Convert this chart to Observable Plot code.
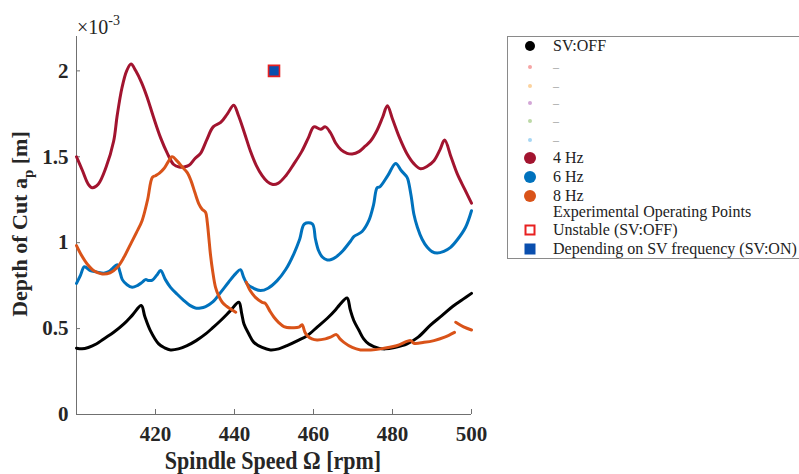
<!DOCTYPE html>
<html><head><meta charset="utf-8">
<script src="https://cdn.jsdelivr.net/npm/d3@7"></script>
<script src="https://cdn.jsdelivr.net/npm/@observablehq/plot@0.6"></script>
<style>
body{margin:0;overflow:hidden;background:#fff;}
#wrap{position:relative;width:799px;height:474px;overflow:hidden;}
#legend{position:absolute;left:507px;top:36px;width:320px;height:221px;border:1px solid #8a8a8a;border-right:none;font-family:"Liberation Serif",serif;font-size:16px;color:#222;background:#fff;}
.item{position:absolute;left:0;height:16px;width:320px;}
.mk{position:absolute;transform:translate(-50%,-50%);top:8px;left:22px;}
.tx{position:absolute;left:45px;top:0;line-height:16px;white-space:nowrap;}
.lbl{position:absolute;font-family:"Liberation Serif",serif;color:#262626;white-space:nowrap;line-height:1;}
</style></head>
<body><div id="wrap"></div>
<script>
// ---- data (y in units of 1e-3 m) ----
const xTicks = [420, 440, 460, 480, 500];
const yTicks = [0, 0.5, 1, 1.5, 2];

const svOff = [[400,0.386],[401.4,0.382],[403,0.39],[405,0.41],[406.9,0.44],[409.5,0.48],[412,0.527],[414.2,0.58],[416.4,0.634],[417.3,0.57],[418.7,0.488],[420.8,0.411],[422.3,0.388],[423.8,0.376],[425.8,0.382],[428,0.401],[430.3,0.43],[432.7,0.469],[434.5,0.505],[436.5,0.547],[438.8,0.6],[441.1,0.653],[441.8,0.59],[442.4,0.527],[443.6,0.47],[444.9,0.42],[447,0.39],[449.1,0.376],[451.2,0.382],[453.3,0.401],[456,0.43],[458.4,0.459],[461,0.51],[463.5,0.56],[465.6,0.61],[466.5,0.635],[468.5,0.678],[469.3,0.61],[470.2,0.547],[471.5,0.49],[472.7,0.44],[474,0.41],[475.3,0.395],[476.7,0.385],[478.2,0.382],[480.5,0.39],[483.7,0.411],[486.5,0.45],[489.6,0.52],[492.5,0.575],[495.3,0.63],[497.8,0.67],[500,0.705]];

const hz4 = [[400,1.5],[401.5,1.42],[403,1.34],[404,1.32],[405.5,1.34],[407.5,1.44],[409.4,1.59],[410.3,1.74],[411.5,1.9],[412.7,2.0],[413.8,2.04],[415,2.0],[416.5,1.93],[417.9,1.845],[419.5,1.73],[421.3,1.61],[423,1.52],[424.6,1.455],[426,1.44],[427.2,1.44],[428.5,1.45],[430,1.49],[431.4,1.52],[433,1.6],[434.6,1.674],[436.5,1.7],[438.2,1.75],[439.8,1.8],[441,1.74],[442.5,1.64],[444,1.535],[445.5,1.45],[447,1.39],[448.3,1.355],[449.5,1.34],[451,1.345],[453,1.39],[455,1.457],[457,1.53],[458.7,1.61],[460.1,1.674],[461.8,1.66],[463,1.674],[464.3,1.64],[465.6,1.58],[467,1.54],[468.5,1.52],[469.8,1.516],[471.5,1.53],[473,1.56],[474.4,1.59],[476,1.65],[477.5,1.73],[478.7,1.797],[480,1.72],[481.8,1.61],[483.7,1.516],[485.4,1.46],[487.1,1.43],[488.8,1.445],[490.5,1.477],[492,1.54],[493.2,1.597],[494.8,1.5],[496.4,1.4],[498.3,1.31],[500,1.23]];

const hz6 = [[400,0.763],[401,0.81],[402,0.86],[403.5,0.837],[405,0.83],[406.9,0.822],[408,0.83],[409,0.847],[410.3,0.872],[411,0.83],[411.6,0.785],[412.8,0.755],[414.1,0.74],[415.5,0.752],[416.6,0.769],[417.5,0.785],[418.3,0.78],[419.2,0.782],[420.3,0.81],[421.3,0.838],[422.5,0.785],[423.8,0.74],[425.5,0.7],[427.2,0.663],[428.7,0.635],[430.1,0.62],[431.4,0.62],[432.7,0.628],[434.5,0.655],[436.5,0.711],[438.5,0.77],[440.3,0.82],[441.5,0.843],[442.3,0.8],[443.2,0.76],[444.8,0.735],[446.6,0.721],[448.5,0.735],[450.8,0.779],[453,0.845],[455,0.934],[456.5,1.02],[457.7,1.109],[459.7,1.109],[460.5,1.02],[461.3,0.953],[462.3,0.915],[463.5,0.899],[464.5,0.902],[465.6,0.915],[467.5,0.955],[469.4,1.01],[470.2,1.035],[472.3,1.065],[474,1.128],[475.2,1.22],[476.1,1.32],[476.8,1.325],[478.8,1.39],[480.8,1.461],[482.2,1.42],[483.7,1.38],[484.1,1.35],[484.8,1.26],[485.4,1.167],[486.3,1.09],[487.5,1.02],[488.8,0.973],[490,0.948],[491.3,0.94],[493,0.95],[494.7,0.973],[496.5,1.02],[498.5,1.09],[500,1.186]];

const hz8 = [[400,0.983],[401.3,0.925],[402.7,0.876],[404.5,0.835],[406.5,0.818],[408.5,0.825],[410.3,0.856],[412,0.915],[413.7,0.992],[415.2,1.06],[416.6,1.128],[418,1.25],[419.2,1.38],[420,1.39],[421,1.405],[422.1,1.43],[423.2,1.47],[424.2,1.5],[425.5,1.475],[426.8,1.44],[428,1.409],[429,1.36],[430,1.29],[431,1.225],[431.8,1.195],[432.7,1.176],[433.1,1.12],[433.5,1.03],[433.9,0.934],[434.5,0.83],[435.2,0.74],[436,0.69],[436.9,0.653],[438,0.63],[439,0.614],[440.3,0.595],
  [441.5,NaN],
  [443,0.77],[444,0.72],[445.3,0.682],[447,0.653],[447.8,0.647],[449,0.6],[450,0.566],[451.2,0.535],[452.5,0.512],[454.5,0.505],[456.3,0.508],[457.1,0.523],[457.8,0.48],[458.4,0.459],[459.6,0.44],[460.9,0.434],[463,0.44],[464.3,0.45],[465.8,0.465],[466.7,0.44],[467.7,0.42],[469.8,0.39],[471.9,0.376],[474.5,0.376],[477,0.382],[481,0.4],[484.6,0.43],[485.4,0.415],[488,0.42],[490.5,0.43],[493.2,0.45],[495.7,0.478],
  [495.85,NaN],
  [496,0.537],[498,0.51],[500,0.492]];

const expPoints = [[450, 2.0]];

const legendItems = [
  {label:"SV:OFF", kind:"dot", color:"#000", size:10, y:45},
  {label:"–", kind:"dot", color:"#f6a5a5", size:4, y:66, faint:true},
  {label:"–", kind:"dot", color:"#fcd39e", size:4, y:85, faint:true},
  {label:"–", kind:"dot", color:"#d3a6d6", size:4, y:102, faint:true},
  {label:"–", kind:"dot", color:"#bcd9a6", size:4, y:120, faint:true},
  {label:"–", kind:"dot", color:"#a6d6f4", size:4, y:139, faint:true},
  {label:"4 Hz", kind:"dot", color:"#a2142f", size:12, y:157},
  {label:"6 Hz", kind:"dot", color:"#0072bd", size:12, y:176},
  {label:"8 Hz", kind:"dot", color:"#d95319", size:12, y:195},
  {label:"Experimental Operating Points", kind:"none", y:211},
  {label:"Unstable (SV:OFF)", kind:"sqOpen", color:"#e82020", size:11, y:229},
  {label:"Depending on SV frequency (SV:ON)", kind:"sqFill", color:"#0a4fae", size:11, y:248}
];

const pt = {x: d => d[0], y: d => d[1]};
const lineOpts = c => ({...pt, stroke: c, strokeWidth: 3, strokeLinejoin: "round", strokeLinecap: "round", curve: "catmull-rom"});

const chart = Plot.plot({
  width: 799, height: 474,
  marginLeft: 76, marginRight: 328, marginTop: 36, marginBottom: 60,
  x: {domain: [400, 500]},
  y: {domain: [0, 2.2]},
  style: {fontFamily: "Liberation Serif", background: "white", color: "#262626"},
  marks: [
    Plot.axisX({ticks: xTicks, tickSize: -5, tickFormat: () => "", stroke: "#707070", label: null}),
    Plot.axisX({ticks: xTicks, tickSize: 0, tickPadding: 12, fontSize: 21, fontWeight: "bold", fill: "#262626", label: null, tickFormat: d => String(d)}),
    Plot.axisY({ticks: yTicks, tickSize: -4, tickFormat: () => "", stroke: "#707070", label: null}),
    Plot.axisY({ticks: yTicks, tickSize: 0, tickPadding: 8, fontSize: 21, fontWeight: "bold", fill: "#262626", label: null, tickFormat: d => String(d)}),
    Plot.ruleX([400], {stroke: "#707070"}),
    Plot.ruleY([0], {stroke: "#707070"}),
    Plot.line(svOff, lineOpts("#000000")),
    Plot.line(hz4, lineOpts("#a2142f")),
    Plot.line(hz6, lineOpts("#0072bd")),
    Plot.line(hz8, lineOpts("#d95319")),
    Plot.dot(expPoints, {...pt, symbol: "square", r: 6.2, fill: "#0a4fae", stroke: "#e82020", strokeWidth: 1.6})
  ]
});

const wrap = document.getElementById("wrap");
wrap.appendChild(chart);

// axis labels
const xl = document.createElement("div");
xl.className = "lbl";
xl.style.cssText = "left:273px;top:461px;font-size:22px;font-weight:bold;transform:translate(-50%,-50%) scaleY(1.1);";
xl.textContent = "Spindle Speed Ω [rpm]";
wrap.appendChild(xl);

const yl = document.createElement("div");
yl.className = "lbl";
yl.style.cssText = "left:22px;top:224px;font-size:22px;font-weight:bold;transform:translate(-50%,-50%) rotate(-90deg);";
yl.innerHTML = "Depth of Cut a<sub style='font-size:15px;vertical-align:-6px'>p</sub> [m]";
wrap.appendChild(yl);

const ex = document.createElement("div");
ex.className = "lbl";
ex.style.cssText = "left:77px;top:14px;font-size:20px;";
ex.innerHTML = "×10<sup style='font-size:14px;vertical-align:9px'>-3</sup>";
wrap.appendChild(ex);

// legend
const lg = document.createElement("div");
lg.id = "legend";
legendItems.forEach(it => {
  const row = document.createElement("div");
  row.className = "item";
  row.style.top = (it.y - 36 - 8) + "px";
  if (it.kind !== "none") {
    const m = document.createElement("div");
    m.className = "mk";
    const s = it.size + "px";
    m.style.width = s; m.style.height = s;
    if (it.kind === "dot") { m.style.background = it.color; m.style.borderRadius = "50%"; }
    else if (it.kind === "sqOpen") { m.style.boxSizing = "border-box"; m.style.border = "2px solid " + it.color; m.style.background = "#fff"; }
    else { m.style.background = it.color; }
    row.appendChild(m);
  }
  const t = document.createElement("div");
  t.className = "tx";
  t.textContent = it.label;
  if (it.faint) { t.style.color = "#9a9a9a"; t.style.fontSize = "12px"; }
  row.appendChild(t);
  lg.appendChild(row);
});
wrap.appendChild(lg);
</script></body></html>
